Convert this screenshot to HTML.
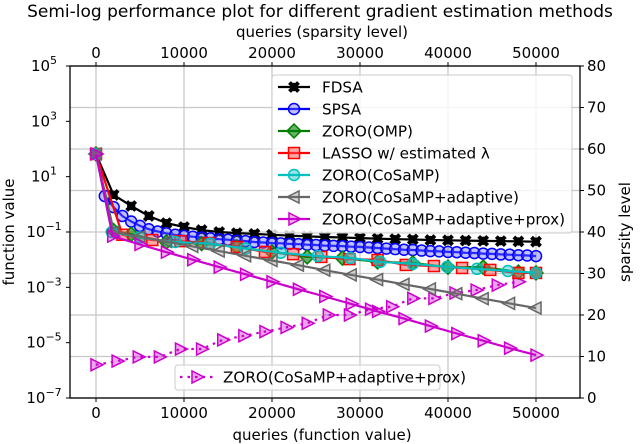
<!DOCTYPE html>
<html><head><meta charset="utf-8">
<style>
body{margin:0;background:#fff;}
svg{display:block;font-family:"DejaVu Sans","Liberation Sans",sans-serif;}
</style></head>
<body>
<svg id="chart" width="640" height="444" viewBox="0 0 640 444" xmlns="http://www.w3.org/2000/svg">
<text x="320" y="17" font-size="17" text-anchor="middle">Semi-log performance plot for different gradient estimation methods</text>
<text x="322" y="37" font-size="15" text-anchor="middle">queries (sparsity level)</text>
<text x="322" y="440" font-size="15" text-anchor="middle">queries (function value)</text>
<text transform="translate(14,232) rotate(-90)" font-size="15" text-anchor="middle">function value</text>
<text transform="translate(630,232) rotate(-90)" font-size="15" text-anchor="middle">sparsity level</text>
<g id="grid"></g>
<g id="series"></g>
<g id="axes"></g>
<g id="legends"></g>
</svg>
<script>
const xTicks=[0,10000,20000,30000,40000,50000];
const leftTicks=[5,3,1,-1,-3,-5,-7];
const rightTicks=[0,10,20,30,40,50,60,70,80];

const qFDSA=[0,2000,4000,6000,8000,10000,12000,14000,16000,18000,20000,22000,24000,26000,28000,30000,32000,34000,36000,38000,40000,42000,44000,46000,48000,50000];
const vFDSA=[1.82,0.34,-0.06,-0.42,-0.68,-0.82,-0.93,-1.0,-1.04,-1.07,-1.1,-1.13,-1.16,-1.18,-1.2,-1.22,-1.24,-1.26,-1.27,-1.29,-1.3,-1.31,-1.32,-1.33,-1.34,-1.35];
const qSPSA=[0,1000,2000,3000,4000,5000,6000,7000,8000,9000,10000,11000,12000,13000,14000,15000,16000,17000,18000,19000,20000,21000,22000,23000,24000,25000,26000,27000,28000,29000,30000,31000,32000,33000,34000,35000,36000,37000,38000,39000,40000,41000,42000,43000,44000,45000,46000,47000,48000,49000,50000];
const vSPSA=[1.82,0.3,-0.1,-0.42,-0.62,-0.78,-0.9,-0.98,-1.05,-1.1,-1.14,-1.17,-1.2,-1.23,-1.26,-1.28,-1.31,-1.33,-1.36,-1.38,-1.4,-1.41,-1.43,-1.44,-1.46,-1.47,-1.49,-1.5,-1.51,-1.53,-1.54,-1.56,-1.58,-1.6,-1.62,-1.64,-1.65,-1.67,-1.69,-1.7,-1.72,-1.73,-1.75,-1.76,-1.78,-1.79,-1.81,-1.82,-1.84,-1.85,-1.87];
const qOMP=[0,2000,4000,8000,12000,16000,20000,24000,28000,32000,36000,40000,44000,48000,50000];
const vOMP=[1.82,-0.95,-1.08,-1.36,-1.42,-1.54,-1.72,-1.9,-1.94,-2.08,-2.12,-2.27,-2.27,-2.45,-2.48];
const qLASSO=[0,3000,6400,9600,12800,16000,19200,22400,25600,28800,32000,35200,38400,41600,44800,48000,50000];
const vLASSO=[1.82,-1.1,-1.29,-1.33,-1.4,-1.54,-1.72,-1.8,-1.9,-1.98,-2.01,-2.19,-2.23,-2.3,-2.37,-2.48,-2.48];
const qCoSaMP=[0,1800,5000,9000,13000,17000,21000,25200,28900,32300,36000,39900,43300,46800,50000];
const vCoSaMP=[1.82,-1.0,-1.2,-1.36,-1.42,-1.6,-1.75,-1.87,-1.94,-2.08,-2.15,-2.26,-2.33,-2.41,-2.48];
const qAdapt=[0,2000,5000,8000,11000,14000,17000,20000,23000,26000,29000,32000,35000,38000,41000,44000,47000,50000];
const vAdapt=[1.82,-1.0,-1.17,-1.34,-1.52,-1.69,-1.86,-2.03,-2.2,-2.38,-2.55,-2.72,-2.89,-3.06,-3.23,-3.41,-3.58,-3.75];
const qProx=[0,1900,5000,8000,11000,14000,17000,20000,23000,26000,29000,32000,35000,38000,41000,44000,47000,50000];
const vProx=[1.82,-1.15,-1.45,-1.73,-2.0,-2.27,-2.53,-2.8,-3.07,-3.33,-3.6,-3.87,-4.13,-4.4,-4.67,-4.93,-5.2,-5.45];
const qSparse=[0,2400,4800,7200,9600,12000,14400,16800,19200,21600,24000,26400,28800,31200,33600,36000,38400,40800,43200,45600,48000];
const vSparse=[8,8.9,9.9,9.9,11.8,11.8,14,15,16,17,18,20,20,21.4,22,24,24,25.3,26,27.2,28];

const NS="http://www.w3.org/2000/svg";
const PL=70,PR=580,PT=66,PB=398;
function X(q){return 96+q*0.0088;}
function YL(l){return PB-(l+7)*(PB-PT)/12;}
function YR(s){return PB-s*(PB-PT)/80;}
function mk(tag,attrs,parent){const e=document.createElementNS(NS,tag);for(const k in attrs)e.setAttribute(k,attrs[k]);parent.appendChild(e);return e;}

const grid=document.getElementById('grid');
xTicks.forEach(t=>{
  const l=mk('line',{x1:X(t),x2:X(t),y1:PT,y2:PB,stroke:'#c8c8c8','stroke-width':1.3},grid);
  
  
});
rightTicks.forEach(t=>{
  const l=mk('line',{x1:PL,x2:PR,y1:YR(t),y2:YR(t),stroke:'#c8c8c8','stroke-width':1.3},grid);
  
  
});

function marker(type,x,y,color,fill,parent){
  let e;
  const r=5.5;
  if(type==='o'){e=mk('circle',{cx:x,cy:y,r:r,fill:fill,stroke:color,'stroke-width':1.5},parent);}
  else if(type==='D'){e=mk('path',{d:`M${x},${y-7}L${x+7},${y}L${x},${y+7}L${x-7},${y}Z`,fill:fill,stroke:color,'stroke-width':1.5},parent);}
  else if(type==='s'){e=mk('rect',{x:x-5.5,y:y-5.5,width:11,height:11,fill:fill,stroke:color,'stroke-width':1.5},parent);}
  else if(type==='<'){e=mk('path',{d:`M${x-7},${y}L${x+5},${y-6}L${x+5},${y+6}Z`,fill:fill,stroke:color,'stroke-width':1.5},parent);}
  else if(type==='>'){e=mk('path',{d:`M${x+7},${y}L${x-5},${y-6}L${x-5},${y+6}Z`,fill:fill,stroke:color,'stroke-width':1.5},parent);}
  else {e=mk('path',{d:`M${x-4.5},${y-4.5}L${x+4.5},${y+4.5}M${x+4.5},${y-4.5}L${x-4.5},${y+4.5}`,stroke:color,'stroke-width':4,fill:'none'},parent);
        mk('circle',{cx:x,cy:y,r:3.5,fill:'none',stroke:color,'stroke-width':1.4},parent);}
  return e;
}

const seriesG=document.getElementById('series');
function drawSeries(name,qs,vs,yf,color,fill,type,dash){
  const g=mk('g',{},seriesG);
  
  
  const pts=qs.map((q,i)=>X(q).toFixed(1)+','+yf(vs[i]).toFixed(1)).join(' ');
  const attrs={points:pts,fill:'none',stroke:color,'stroke-width':2.2};
  if(dash)attrs['stroke-dasharray']=dash;
  const pl=mk('polyline',attrs,g);
  
  
  qs.forEach((q,i)=>{
    const m=marker(type,X(q),yf(vs[i]),color,fill,g);
    
    
  });
}
drawSeries('sparsity-series',qSparse,vSparse,YR,'#cc00cc','rgba(204,0,204,0.35)','>','2.5,5');
drawSeries('fdsa-series',qFDSA,vFDSA,YL,'#000','none','X');
drawSeries('spsa-series',qSPSA,vSPSA,YL,'#0000ff','rgba(100,100,255,0.4)','o');
drawSeries('zoro-omp-series',qOMP,vOMP,YL,'#008000','rgba(0,128,0,0.6)','D');
drawSeries('lasso-series',qLASSO,vLASSO,YL,'#ff0000','rgba(255,80,80,0.5)','s');
drawSeries('zoro-cosamp-series',qCoSaMP,vCoSaMP,YL,'#00bfbf','rgba(0,191,191,0.4)','o');
drawSeries('zoro-adaptive-series',qAdapt,vAdapt,YL,'#666','rgba(120,120,120,0.3)','<');
drawSeries('zoro-prox-series',qProx,vProx,YL,'#cc00cc','rgba(204,0,204,0.3)','>');

const axes=document.getElementById('axes');
const frame=mk('rect',{x:PL,y:PT,width:PR-PL,height:PB-PT,fill:'none',stroke:'#000','stroke-width':1.3},axes);


xTicks.forEach(t=>{
  mk('line',{x1:X(t),x2:X(t),y1:PB,y2:PB+4,stroke:'#000'},axes);
  mk('line',{x1:X(t),x2:X(t),y1:PT,y2:PT-4,stroke:'#000'},axes);
  const b=mk('text',{x:X(t),y:PB+20,'font-size':15,'text-anchor':'middle'},axes);
  b.textContent=t;
  
  
  const tp=mk('text',{x:X(t),y:PT-8,'font-size':15,'text-anchor':'middle'},axes);
  tp.textContent=t;
  
  
});
leftTicks.forEach(t=>{
  const y=YL(t);
  mk('line',{x1:PL-4,x2:PL,y1:y,y2:y,stroke:'#000'},axes);
  const tx=mk('text',{x:PL-26,y:y+5,'font-size':15,'text-anchor':'middle'},axes);
  
  
  tx.textContent='10';
  const sp=mk('tspan',{dy:-7,'font-size':11},tx);
  sp.textContent=String(t).replace('-','\u2212');
});
rightTicks.forEach(t=>{
  const y=YR(t);
  mk('line',{x1:PR,x2:PR+4,y1:y,y2:y,stroke:'#000'},axes);
  const tx=mk('text',{x:PR+7,y:y+5,'font-size':15},axes);
  tx.textContent=t;
  
  
});

const leg=document.getElementById('legends');
const lb=mk('rect',{x:272,y:75,width:300,height:158,rx:3,fill:'rgba(255,255,255,0.8)',stroke:'#ccc'},leg);


const legNames=['FDSA','SPSA','ZORO(OMP)','LASSO w/ estimated \u03bb','ZORO(CoSaMP)','ZORO(CoSaMP+adaptive)','ZORO(CoSaMP+adaptive+prox)'];
const legColors=['#000','#0000ff','#008000','#ff0000','#00bfbf','#666','#cc00cc'];
const legFills=['none','rgba(100,100,255,0.4)','rgba(0,128,0,0.6)','rgba(255,80,80,0.5)','rgba(0,191,191,0.4)','rgba(120,120,120,0.3)','rgba(204,0,204,0.3)'];
const legTypes=['X','o','D','s','o','<','>'];
legNames.forEach((n,i)=>{
  const y=87+i*22;
  const g=mk('g',{},leg);
  
  
  mk('line',{x1:278,x2:310,y1:y,y2:y,stroke:legColors[i],'stroke-width':2.2},g);
  marker(legTypes[i],294,y,legColors[i],legFills[i],g);
  const t=mk('text',{x:322,y:y+5.5,'font-size':15.2},g);
  t.textContent=n;
});
const lb2=mk('rect',{x:175,y:365,width:265,height:25,rx:3,fill:'rgba(255,255,255,0.8)',stroke:'#ccc'},leg);


const g2=mk('g',{},leg);


mk('line',{x1:180,x2:213,y1:377,y2:377,stroke:'#cc00cc','stroke-width':2.2,'stroke-dasharray':'2.5,5'},g2);
marker('>',197,377,'#cc00cc','rgba(204,0,204,0.35)',g2);
const t2=mk('text',{x:223,y:382.5,'font-size':15.2},g2);
t2.textContent='ZORO(CoSaMP+adaptive+prox)';
</script>
</body></html>
